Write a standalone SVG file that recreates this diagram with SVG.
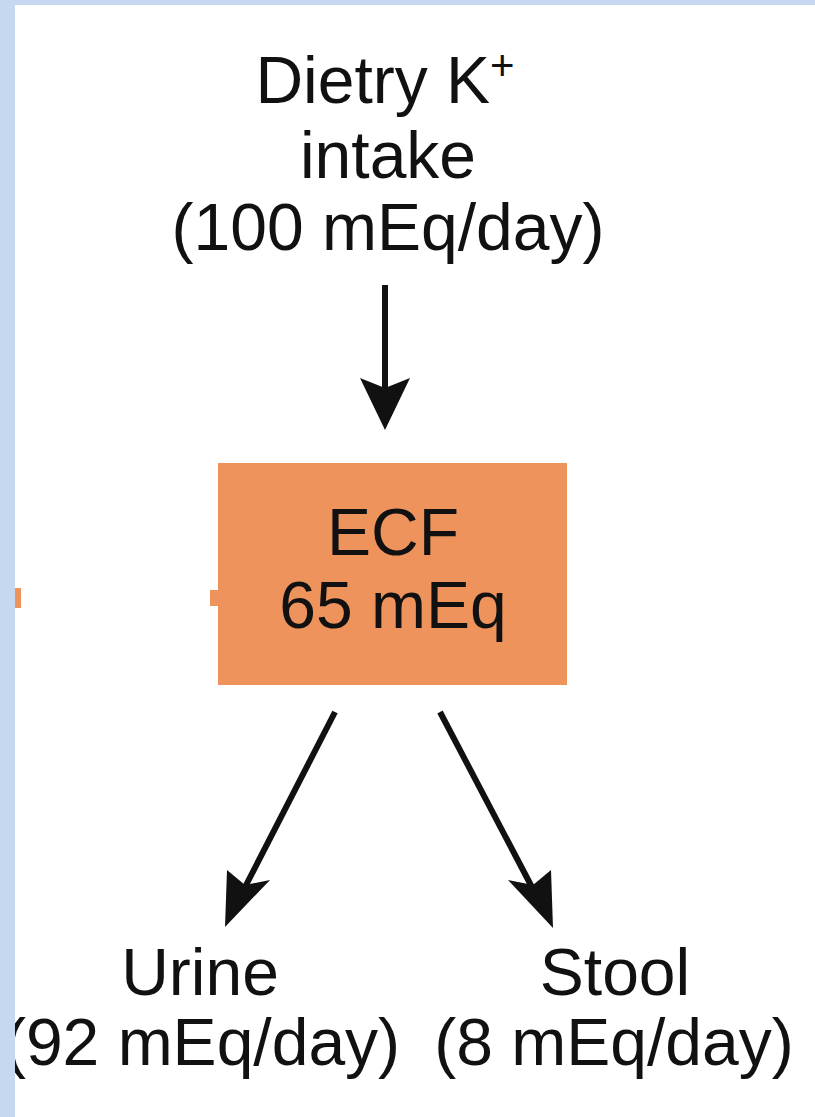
<svg xmlns="http://www.w3.org/2000/svg" width="815" height="1117" viewBox="0 0 815 1117">
<defs>
<style>
.t{font-family:"Liberation Sans",Arial,sans-serif;font-size:66px;fill:#111;text-anchor:middle}
.s{stroke:#111;stroke-width:6;fill:none}
.h{fill:#111}
</style>
</defs>
<rect width="815" height="1117" fill="#fff"/>
<g id="intake">
<text class="t" x="385" y="103">Dietry K<tspan font-size="42" dy="-23">+</tspan></text>
<text class="t" x="388" y="178">intake</text>
<text class="t" x="388" y="250">(100 mEq/day)</text>
</g>
<g id="ecf">
<rect x="218" y="463" width="349" height="222" fill="#ee935c"/>
<rect x="210" y="590" width="9" height="16" fill="#ee935c"/>
<text class="t" x="393" y="555">ECF</text>
<text class="t" x="393" y="628">65 mEq</text>
</g>
<g id="urine">
<text class="t" x="200" y="995">Urine</text>
<text class="t" x="202" y="1065">(92 mEq/day)</text>
</g>
<g id="stool">
<text class="t" x="615" y="995">Stool</text>
<text class="t" x="614" y="1065">(8 mEq/day)</text>
</g>
<g id="connectors">
<path class="s" d="M385,285 L385,400"/>
<path class="h" d="M360,378 L385,430 L410,378 L385,388 Z"/>
<path class="s" d="M335,712 L242,893"/>
<path class="h" d="M225,927 L227,870 L245,885 L270,880 Z"/>
<path class="s" d="M440,712 L535,893"/>
<path class="h" d="M553,928 L551,870 L533,885 L508,880 Z"/>
</g>
<rect x="15" y="588" width="6" height="20" fill="#ee935c"/>
<rect x="0" y="0" width="815" height="5" fill="#c5d8ef"/>
<rect x="0" y="0" width="15" height="1117" fill="#c5d8ef"/>
</svg>
